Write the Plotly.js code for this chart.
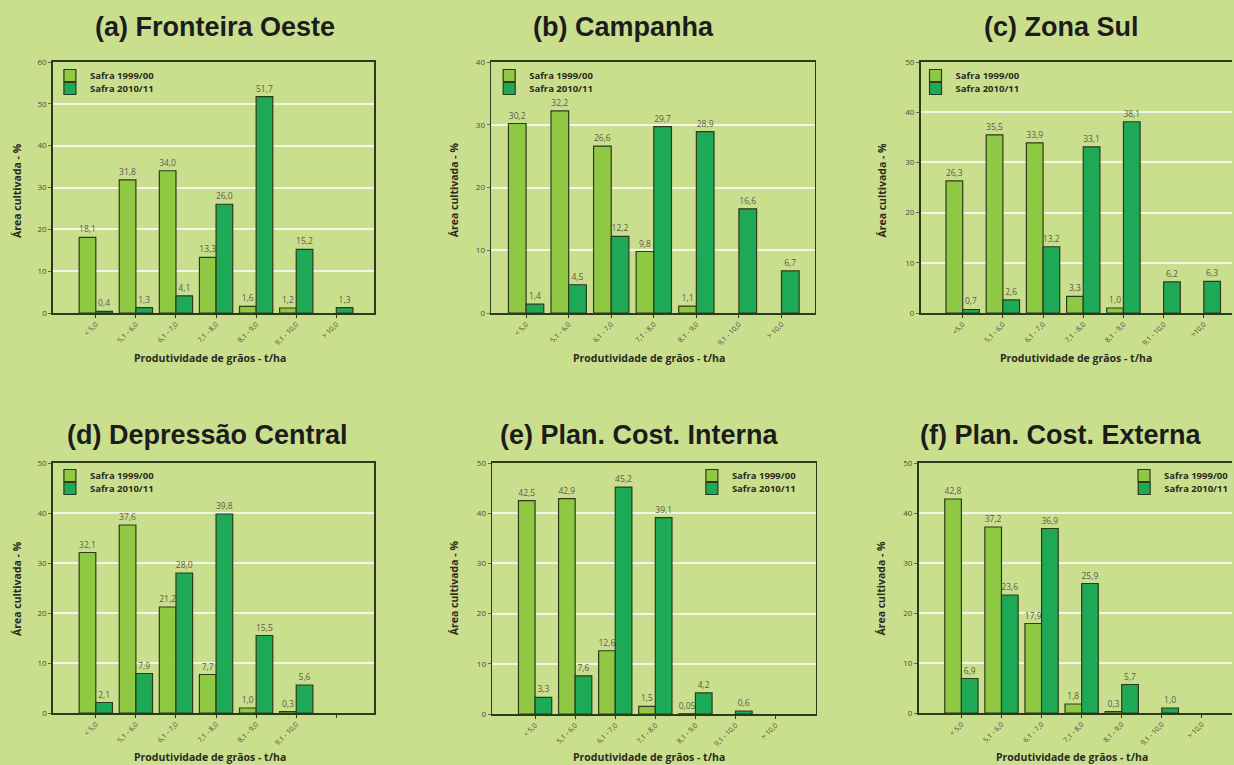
<!DOCTYPE html>
<html><head><meta charset="utf-8">
<script src="https://cdn.plot.ly/plotly-3.0.1.min.js"></script>
<style>html,body{margin:0;padding:0;background:#cadf8e;}#chart{width:1234px;height:765px;}</style>
</head><body><div id="chart"></div>
<script>
const categories = ["< 5,0","5,1 - 6,0","6,1 - 7,0","7,1 - 8,0","8,1 - 9,0","9,1 - 10,0","> 10,0"];
const tickLabelsC = ["<5,0","5,1 - 6,0","6,1 - 7,0","7,1 - 8,0","8,1 - 9,0","9,1 - 10,0",">10,0"];
const tickLabelsD = ["< 5,0","5,1 - 6,0","6,1 - 7,0","7,1 - 8,0","8,1 - 9,0","9,1 - 10,0",""];
const seriesNames = ["Safra 1999/00","Safra 2010/11"];
const panelTitles = ["(a) Fronteira Oeste","(b) Campanha","(c) Zona Sul","(d) Depressão Central","(e) Plan. Cost. Interna","(f) Plan. Cost. Externa"];
const xTitle = "Produtividade de grãos - t/ha";
const yTitle = "Área cultivada - %";

const a1999 = [18.1, 31.8, 34.0, 13.3, 1.6, 1.2, null];
const a2010 = [0.4, 1.3, 4.1, 26.0, 51.7, 15.2, 1.3];
const b1999 = [30.2, 32.2, 26.6, 9.8, 1.1, null, null];
const b2010 = [1.4, 4.5, 12.2, 29.7, 28.9, 16.6, 6.7];
const c1999 = [26.3, 35.5, 33.9, 3.3, 1.0, null, null];
const c2010 = [0.7, 2.6, 13.2, 33.1, 38.1, 6.2, 6.3];
const d1999 = [32.1, 37.6, 21.2, 7.7, 1.0, 0.3, null];
const d2010 = [2.1, 7.9, 28.0, 39.8, 15.5, 5.6, null];
const e1999 = [42.5, 42.9, 12.6, 1.5, 0.05, null, null];
const e2010 = [3.3, 7.6, 45.2, 39.1, 4.2, 0.6, null];
const f1999 = [42.8, 37.2, 17.9, 1.8, 0.3, null, null];
const f2010 = [6.9, 23.6, 36.9, 25.9, 5.7, 1.0, null];

const yMax = [60, 40, 50, 50, 50, 50];
const series = [[a1999,a2010],[b1999,b2010],[c1999,c2010],[d1999,d2010],[e1999,e2010],[f1999,f2010]];
const tickSets = [categories, categories, tickLabelsC, tickLabelsD, categories, categories];

const W = 1234, H = 765;
const colors = ["#8fc843", "#1ea957"];
const edge = "#2e3a1c";
const fmt = v => (v == null ? "" : (Math.round(v*100) % 10 !== 0 ? v.toFixed(2) : v.toFixed(1)).replace(".", ","));

// plot boxes in pixels [left, right, top, bottom]
const boxes = [
  [53, 375, 62, 313], [492, 816, 62, 313], [922, 1246, 62, 313],
  [53, 375, 463, 713], [493, 817, 463, 714], [920, 1244, 463, 713]
];
const ranges = [[-1.07,6.95],[-0.82,6.78],[-1.05,7.0],[-1.07,6.95],[-1.07,7.0],[-1.07,7.0]];
const legendPos = [[50,61],[490,61],[917,61],[50,461],[693,461],[1126,461]];
const legendStep = 13;
const titlePos = [[215,27],[625,27],[1063,27],[208,435],[641,435],[1063,435]];
const xTitlePos = [[210,358],[650,358],[1078,358],[210,757],[650,757],[1074,757]];
const yTitlePos = [[17,190],[455,190],[883,190],[17,588],[455,588],[882,588]];

const data = [];
const layout = {
  width: W, height: H,
  margin: {l:0, r:0, t:0, b:0},
  paper_bgcolor: "#cadf8e", plot_bgcolor: "#cadf8e",
  barmode: "group", bargap: 0.17, bargroupgap: 0,
  separators: ",.",
  showlegend: true,
  font: {family: "Open Sans", color: "#333"},
  annotations: [], shapes: []
};

for (let i = 0; i < 6; i++) {
  const k = i === 0 ? "" : String(i+1);
  const [l, r, t, b] = boxes[i];
  const clip = Math.min(r, W);
  for (let s = 0; s < 2; s++) {
    const n = 2 * i + s;
    const lg = n === 0 ? "legend" : "legend" + (n + 1);
    data.push({
      type: "bar", x: categories, y: series[i][s], name: seriesNames[s],
      xaxis: "x" + k, yaxis: "y" + k, legend: lg,
      marker: {color: colors[s], line: {color: edge, width: 1.2}},
      text: series[i][s].map(fmt), textposition: "outside", cliponaxis: false,
      constraintext: "none", textangle: 0,
      textfont: {size: 8.5, color: "#5a5a4a", family: "Open Sans"},
      hoverinfo: "skip"
    });
    layout[lg] = {
      x: legendPos[i][0] / W, y: 1 - (legendPos[i][1] + s * legendStep) / H,
      xanchor: "left", yanchor: "top",
      bgcolor: "rgba(0,0,0,0)", font: {size: 9.5, color: "#2a2a20", family: "Open Sans", weight: "bold"},
      tracegroupgap: 0, itemwidth: 30
    };
  }
  const openRight = r > W;
  const span = ranges[i][1] - ranges[i][0];
  const xr = openRight ? [ranges[i][0], ranges[i][0] + span * (clip - l) / (r - l)] : ranges[i];
  layout["xaxis" + k] = {
    domain: [l / W, clip / W], anchor: "y" + k, type: "category",
    range: xr, tickmode: "array", tickvals: categories, ticktext: tickSets[i],
    tickangle: -45, tickfont: {size: 7, color: "#4a4a40"},
    showline: true, linecolor: edge, linewidth: 1.6, mirror: true,
    ticks: "outside", ticklen: 3, tickcolor: edge, showgrid: false, zeroline: false, fixedrange: true
  };
  layout["yaxis" + k] = {
    domain: [1 - b / H, 1 - t / H], anchor: "x" + k,
    range: [0, yMax[i]], dtick: 10, tickfont: {size: 8, color: "#4a4a40"},
    showline: true, linecolor: edge, linewidth: 1.6, mirror: !openRight,
    ticks: "outside", ticklen: 3, tickcolor: "#666",
    showgrid: true, gridcolor: "#f2f6e4", gridwidth: 2, zeroline: false, fixedrange: true
  };
  layout.annotations.push({
    text: panelTitles[i], xref: "paper", yref: "paper",
    x: titlePos[i][0] / W, y: 1 - titlePos[i][1] / H, xanchor: "center", yanchor: "middle",
    showarrow: false, font: {family: "Liberation Sans", size: 27, weight: "bold", color: "#1c1c1c"}
  });
  layout.annotations.push({
    text: xTitle, xref: "paper", yref: "paper",
    x: xTitlePos[i][0] / W, y: 1 - xTitlePos[i][1] / H, xanchor: "center", yanchor: "middle",
    showarrow: false, font: {family: "Open Sans", size: 10.5, weight: "bold", color: "#2a2a20"}
  });
  layout.annotations.push({
    text: yTitle, xref: "paper", yref: "paper", textangle: -90,
    x: yTitlePos[i][0] / W, y: 1 - yTitlePos[i][1] / H, xanchor: "center", yanchor: "middle",
    showarrow: false, font: {family: "Open Sans", size: 10.5, weight: "bold", color: "#2a2a20"}
  });
}

Plotly.newPlot("chart", data, layout, {staticPlot: true, displayModeBar: false});
</script>
</body></html>
